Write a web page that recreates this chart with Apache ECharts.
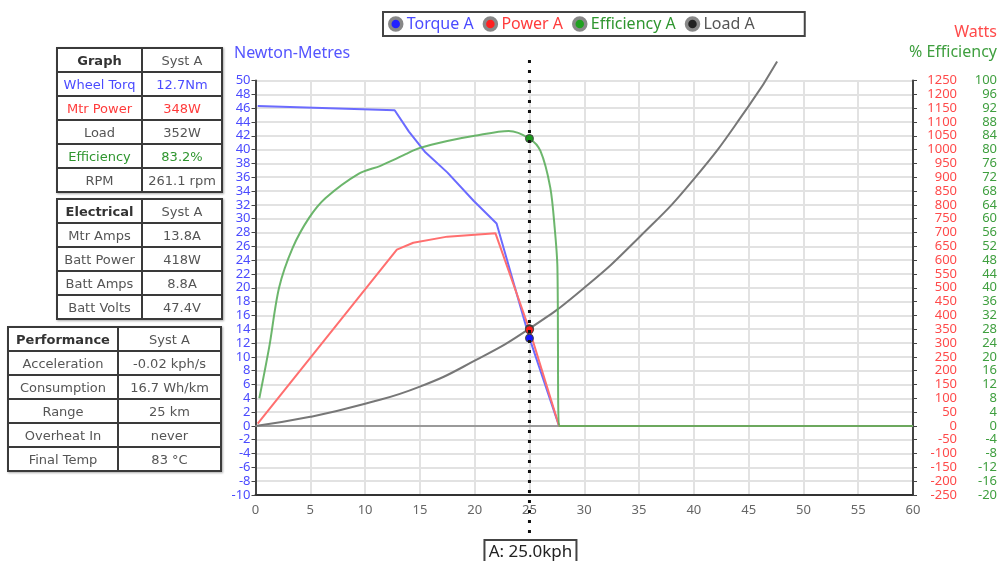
<!DOCTYPE html>
<html lang="en">
<head>
<meta charset="UTF-8">
<title>Motor simulator</title>
<script src="https://cdn.jsdelivr.net/npm/echarts@6/dist/echarts.min.js"></script>
<style>
    body { margin: 0; background: #fff; }
    #main { position: absolute; left: 0; top: 0; width: 1000px; height: 561px; }
    table.info {
        position: absolute; border-collapse: collapse; background: #fff;
        font-family: "DejaVu Sans", Verdana, sans-serif; font-size: 13px; color: #555;
        box-shadow: 1px 1px 2px #aaa; z-index: 2;
    }
    table.info td { border: 2px solid #3a3a3a; text-align: center; padding: 0; height: 22px; white-space: nowrap; }
    table.info td.h { font-weight: bold; color: #333; }
    .blue { color: #4b4bff; }
    .red { color: #ff3b3b; }
    .green { color: #2f962f; }
</style>
</head>
<body>
<div id="main"></div>

<table class="info" style="left:56px;top:47px;width:167px;">
    <tr><td class="h" style="width:83px">Graph</td><td>Syst A</td></tr>
    <tr><td class="blue">Wheel Torq</td><td class="blue">12.7Nm</td></tr>
    <tr><td class="red">Mtr Power</td><td class="red">348W</td></tr>
    <tr><td>Load</td><td>352W</td></tr>
    <tr><td class="green">Efficiency</td><td class="green">83.2%</td></tr>
    <tr><td>RPM</td><td>261.1 rpm</td></tr>
</table>
<table class="info" style="left:56px;top:198px;width:167px;">
    <tr><td class="h" style="width:83px">Electrical</td><td>Syst A</td></tr>
    <tr><td>Mtr Amps</td><td>13.8A</td></tr>
    <tr><td>Batt Power</td><td>418W</td></tr>
    <tr><td>Batt Amps</td><td>8.8A</td></tr>
    <tr><td>Batt Volts</td><td>47.4V</td></tr>
</table>
<table class="info" style="left:7px;top:326px;width:215px;">
    <tr><td class="h" style="width:108px">Performance</td><td>Syst A</td></tr>
    <tr><td>Acceleration</td><td>-0.02 kph/s</td></tr>
    <tr><td>Consumption</td><td>16.7 Wh/km</td></tr>
    <tr><td>Range</td><td>25 km</td></tr>
    <tr><td>Overheat In</td><td>never</td></tr>
    <tr><td>Final Temp</td><td>83 °C</td></tr>
</table>

<script type="text/javascript">
    // speed (kph) and values
    var torqueKph = [0.2, 12.7, 14.0, 15.5, 17.5, 19.9, 22.0, 25.0, 27.7, 60];
    var torqueNm  = [46.3, 45.7, 42.6, 39.6, 36.7, 32.6, 29.3, 12.7, 0, 0];

    var powerKph = [0.2, 12.9, 14.4, 17.5, 21.9, 25.0, 27.7, 60];
    var powerW   = [8, 638, 663, 685, 697, 348, 0, 0];

    var effKph = [0.35, 1.25, 2.15, 3.4, 4.9, 6.4, 9.4, 11.4, 12.6, 13.7, 15.0, 17.5, 20.0, 23.1, 25.0, 26.0, 26.9, 27.3, 27.55, 27.7, 60];
    var effPct = [8, 22.8, 40, 51.6, 60.3, 66, 73, 75.3, 77, 78.7, 80.5, 82.5, 84, 85.4, 83.2, 79.6, 69, 57.4, 46, 0, 0];

    var loadKph = [0, 5, 10, 15, 20, 25, 30, 35, 40, 45, 47.6];
    var loadW   = [0, 33, 80, 142, 236, 352, 500, 682, 893, 1157, 1319];

    // cursor
    var markerKph = 25;
    var markerTorque = 12.7, markerPower = 348, markerEff = 83.2, markerLoad = 352;

    var cBlue = '#6b6bff', cRed = '#ff6f6f', cGreen = '#5cae5c', cGrey = '#777';
    var font = 'Noto Sans';

    function pairs(xs, ys) {
        return xs.map(function (x, i) { return [x, ys[i]]; });
    }
    function dot(x, y, color) {
        return {
            symbol: 'circle', symbolSize: 8, label: { show: false },
            itemStyle: { color: color, borderColor: '#444', borderWidth: 1 },
            data: [{ coord: [x, y] }]
        };
    }

    var myChart = echarts.init(document.getElementById('main'));

    var option = {
        animation: false,
        textStyle: { fontFamily: font },
        title: [
            { text: 'Newton-Metres', left: 234, top: 45, padding: 0, textStyle: { color: '#5555ff', fontSize: 16, fontWeight: 'normal', fontFamily: font } },
            { text: 'Watts', right: 3, top: 24, padding: 0, textStyle: { color: '#ff4a4a', fontSize: 16, fontWeight: 'normal', fontFamily: font } },
            { text: '% Efficiency', right: 3, top: 44, padding: 0, textStyle: { color: '#3f9f3f', fontSize: 16, fontWeight: 'normal', fontFamily: font } }
        ],
        legend: {
            left: 383, top: 12,
            padding: [4, 50, 4, 5],
            itemGap: 9, itemWidth: 12, itemHeight: 12,
            icon: 'circle',
            borderColor: '#444', borderWidth: 2,
            textStyle: { fontSize: 16, fontFamily: font },
            data: [
                { name: 'Torque A', textStyle: { color: '#4b4bff' }, itemStyle: { color: '#2222ff', borderColor: '#888', borderWidth: 3.5 } },
                { name: 'Power A', textStyle: { color: '#ff3b3b' }, itemStyle: { color: '#ff2020', borderColor: '#888', borderWidth: 3.5 } },
                { name: 'Efficiency A', textStyle: { color: '#2f962f' }, itemStyle: { color: '#20a020', borderColor: '#888', borderWidth: 3.5 } },
                { name: 'Load A', textStyle: { color: '#555' }, itemStyle: { color: '#222', borderColor: '#888', borderWidth: 3.5 } }
            ]
        },
        grid: { left: 255.5, right: 86.7, top: 80.5, bottom: 66 },
        xAxis: {
            type: 'value', min: 0, max: 60, interval: 5,
            axisLine: { onZero: false, lineStyle: { color: '#333', width: 2 } },
            axisTick: { show: false },
            axisLabel: { color: '#666', fontSize: 13, margin: 9 },
            splitLine: { lineStyle: { color: '#e2e2e2', width: 2 } }
        },
        yAxis: [
            {
                type: 'value', min: -10, max: 50, interval: 2, position: 'left',
                axisLine: { show: true, onZero: false, lineStyle: { color: '#444', width: 2 } },
                axisTick: { show: true, length: 4, lineStyle: { color: '#444' } },
                axisLabel: { color: '#4b4bff', fontSize: 13, margin: 5 },
                splitLine: { lineStyle: { color: '#e2e2e2', width: 2 } }
            },
            {
                type: 'value', min: -250, max: 1250, interval: 50, position: 'right',
                axisLine: { show: true, onZero: false, lineStyle: { color: '#444', width: 2 } },
                axisTick: { show: true, length: 4, lineStyle: { color: '#444' } },
                axisLabel: { color: '#ff4a4a', fontSize: 13, margin: 44, align: 'right', formatter: function (v) { return String(v); } },
                splitLine: { show: false }
            },
            {
                type: 'value', min: -20, max: 100, interval: 4, position: 'right',
                axisLine: { show: false },
                axisTick: { show: false },
                axisLabel: { color: '#3f9f3f', fontSize: 13, margin: 84, align: 'right' },
                splitLine: { show: false }
            }
        ],
        series: [
            {
                name: 'Load A', type: 'line', yAxisIndex: 1, data: pairs(loadKph, loadW),
                smooth: true, showSymbol: false, clip: false,
                lineStyle: { color: cGrey, width: 2 }, itemStyle: { color: cGrey },
                markLine: {
                    silent: true, symbol: 'none', label: { show: false }, z: 1,
                    lineStyle: { color: '#9a9a9a', width: 2, type: 'solid' },
                    data: [{ yAxis: 0 }]
                },
                markPoint: dot(markerKph, markerLoad, '#222')
            },
            {
                name: 'Torque A', type: 'line', yAxisIndex: 0, data: pairs(torqueKph, torqueNm),
                showSymbol: false,
                lineStyle: { color: cBlue, width: 2 }, itemStyle: { color: cBlue },
                markPoint: dot(markerKph, markerTorque, '#1515ff')
            },
            {
                name: 'Power A', type: 'line', yAxisIndex: 1, data: pairs(powerKph, powerW),
                showSymbol: false,
                lineStyle: { color: cRed, width: 2 }, itemStyle: { color: cRed },
                markPoint: dot(markerKph, markerPower, '#ff1a1a')
            },
            {
                name: 'Efficiency A', type: 'line', yAxisIndex: 2, data: pairs(effKph, effPct),
                smooth: 0.3, showSymbol: false, z: 3,
                lineStyle: { color: cGreen, width: 2, opacity: 0.9 }, itemStyle: { color: cGreen },
                markPoint: dot(markerKph, markerEff, '#1a9a1a')
            }
        ]
    };
    myChart.setOption(option);

    // dotted cursor line and its label, placed from the x scale
    var px = myChart.convertToPixel({ xAxisIndex: 0 }, markerKph);
    myChart.setOption({
        graphic: [
            {
                type: 'line', z: 100,
                shape: { x1: px, y1: 60, x2: px, y2: 540 },
                style: { stroke: '#111', lineWidth: 3, lineDash: [3, 7] }
            },
            {
                type: 'rect', z: 101,
                shape: { x: px - 45, y: 540, width: 92, height: 26 },
                style: { fill: '#fff', stroke: '#444', lineWidth: 2 }
            },
            {
                type: 'text', z: 102, x: px + 1, y: 552,
                style: { text: 'A: ' + markerKph.toFixed(1) + 'kph', fill: '#222', font: '17px "Noto Sans"', align: 'center', verticalAlign: 'middle' }
            }
        ]
    });
</script>
</body>
</html>
